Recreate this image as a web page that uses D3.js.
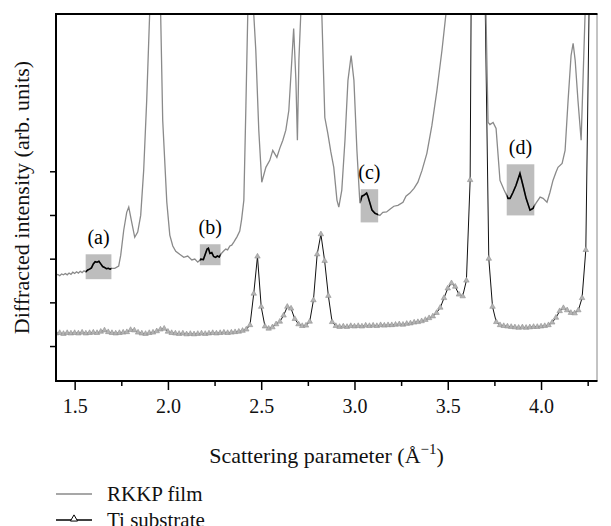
<!DOCTYPE html>
<html><head><meta charset="utf-8">
<script src="https://cdn.jsdelivr.net/npm/d3@7"></script>
<style>body{margin:0;background:#fff}svg{display:block}</style>
</head><body>
<svg id="c" width="611" height="526"></svg>
<script>
// ---- data ----
const xTicksMajor = [1.5, 2.0, 2.5, 3.0, 3.5, 4.0];
const xTickLabels = ["1.5", "2.0", "2.5", "3.0", "3.5", "4.0"];
const xTicksMinor = [1.75, 2.25, 2.75, 3.25, 3.75, 4.25];
const yTicks = [1, 2, 3, 4, 5];

const rkkpQ = [1.40,1.41,1.42,1.43,1.44,1.45,1.46,1.47,1.48,1.49,1.50,1.51,1.52,1.53,1.54,1.55,1.56,
 1.57,1.58,1.59,1.60,1.61,1.62,1.63,1.64,1.65,1.66,1.67,1.68,1.69,1.70,1.715,1.736,1.747,1.763,1.779,1.79,
 1.806,1.822,1.838,1.854,1.87,1.886,1.902,1.915,1.93,1.945,1.961,1.972,1.994,2.01,2.026,2.042,2.063,2.085,
 2.106,2.128,2.144,2.16,2.176,2.19,2.20,2.21,2.217,2.225,2.235,2.245,2.255,2.265,2.275,2.289,2.30,2.31,2.32,
 2.332,2.342,2.353,2.37,2.385,2.395,2.407,2.418,2.428,2.44,2.45,2.46,2.471,2.487,2.503,2.525,2.546,2.562,
 2.584,2.60,2.616,2.632,2.648,2.664,2.674,2.686,2.694,2.702,2.712,2.73,2.76,2.79,2.81,2.825,2.841,2.857,
 2.873,2.889,2.906,2.916,2.932,2.949,2.965,2.982,2.997,3.013,3.029,3.04,3.05,3.065,3.072,3.083,3.094,3.11,
 3.12,3.136,3.152,3.172,3.19,3.211,3.233,3.26,3.276,3.297,3.319,3.34,3.362,3.388,3.415,3.442,3.469,3.49,
 3.52,3.60,3.70,3.705,3.716,3.726,3.743,3.759,3.78,3.802,3.823,3.834,3.85,3.866,3.887,3.903,3.92,3.941,
 3.957,3.973,3.984,3.995,4.011,4.032,4.048,4.064,4.08,4.091,4.113,4.129,4.145,4.161,4.172,4.183,4.198,
 4.215,4.225,4.236,4.26,4.30];
const rkkpI = [2.62,2.64,2.61,2.65,2.63,2.66,2.63,2.67,2.64,2.69,2.66,2.70,2.67,2.71,2.68,2.72,2.70,
 2.74,2.76,2.79,2.88,2.93,2.92,2.94,2.88,2.82,2.80,2.77,2.78,2.76,2.78,2.78,2.83,3.08,3.65,4.06,4.18,
 3.83,3.49,3.61,3.99,5.02,6.60,8.60,11.0,12.5,11.0,8.60,6.17,4.29,3.54,3.29,3.17,3.10,3.03,
 3.06,2.97,2.99,2.92,2.99,2.98,3.10,3.22,3.24,3.12,3.14,3.05,3.03,3.06,3.04,3.13,3.18,3.22,3.20,
 3.29,3.31,3.38,3.50,3.63,3.90,4.34,6.50,8.60,11.0,10.5,8.60,7.77,5.94,4.75,5.09,5.25,5.48,
 5.32,5.53,5.71,5.94,6.39,7.54,8.27,7.08,5.71,7.54,8.59,11.0,12.0,11.0,9.50,8.59,6.23,5.87,
 5.45,5.09,4.34,4.18,4.57,5.71,7.08,7.65,7.08,5.48,4.27,4.43,4.45,4.50,4.43,4.27,4.11,4.04,
 4.02,3.99,4.06,4.07,4.13,4.20,4.22,4.29,4.43,4.50,4.61,4.75,5.02,5.41,6.05,6.85,7.77,8.59,
 11.0,13.0,13.0,8.59,6.12,6.07,6.12,5.98,4.79,4.57,4.38,4.38,4.52,4.68,4.95,4.68,4.38,4.11,
 4.15,4.27,4.34,4.41,4.38,4.29,4.52,4.79,4.98,5.09,5.18,5.48,6.62,7.65,7.93,7.54,6.62,
 5.71,7.08,8.59,11.0,12.0];

const tiQ = [1.40,1.42,1.44,1.46,1.48,1.50,1.52,1.54,1.56,1.58,1.60,1.62,1.64,1.66,1.68,1.70,1.72,1.74,
 1.76,1.78,1.80,1.82,1.84,1.86,1.88,1.90,1.92,1.94,1.96,1.98,2.00,2.02,2.04,2.06,2.08,2.10,2.12,2.14,
 2.16,2.18,2.20,2.22,2.24,2.26,2.28,2.30,2.32,2.34,2.36,2.38,2.40,2.42,2.44,2.46,2.48,2.50,2.52,2.54,
 2.56,2.58,2.60,2.62,2.64,2.66,2.68,2.70,2.72,2.74,2.76,2.78,2.80,2.82,2.84,2.86,2.88,2.90,2.92,2.94,
 2.96,2.98,3.00,3.02,3.04,3.06,3.08,3.10,3.12,3.14,3.16,3.18,3.20,3.22,3.24,3.26,3.28,3.30,3.32,3.34,
 3.36,3.38,3.40,3.42,3.44,3.46,3.48,3.50,3.52,3.54,3.56,3.58,3.60,3.62,3.64,3.66,3.68,3.70,3.72,3.74,
 3.76,3.78,3.80,3.82,3.84,3.86,3.88,3.90,3.92,3.94,3.96,3.98,4.00,4.02,4.04,4.06,4.08,4.10,4.12,4.14,
 4.16,4.18,4.20,4.22,4.24,4.26,4.28,4.30];
const tiI = [1.29,1.30,1.28,1.30,1.29,1.30,1.29,1.31,1.29,1.30,1.31,1.30,1.33,1.36,1.32,1.30,1.29,1.30,
 1.31,1.32,1.37,1.36,1.31,1.29,1.28,1.30,1.31,1.34,1.38,1.40,1.33,1.30,1.29,1.28,1.29,1.27,1.28,1.27,
 1.28,1.29,1.28,1.29,1.30,1.29,1.30,1.31,1.30,1.31,1.32,1.33,1.35,1.38,1.48,2.20,3.05,1.90,1.45,1.40,
 1.43,1.50,1.56,1.70,1.90,1.86,1.62,1.50,1.46,1.47,1.56,2.05,3.10,3.56,2.95,2.15,1.55,1.46,1.44,1.45,
 1.44,1.46,1.45,1.46,1.45,1.47,1.46,1.47,1.46,1.48,1.47,1.48,1.48,1.49,1.50,1.49,1.51,1.52,1.54,1.55,
 1.57,1.60,1.64,1.68,1.76,1.88,2.10,2.32,2.44,2.36,2.18,2.14,2.50,4.80,20,40,30,9.0,3.0,1.90,
 1.55,1.48,1.46,1.45,1.44,1.43,1.42,1.43,1.42,1.43,1.44,1.44,1.45,1.46,1.48,1.54,1.65,1.80,1.87,1.82,
 1.76,1.75,1.82,2.10,3.20,9.5,15,20];

const boxNames = ["(a)", "(b)", "(c)", "(d)"];
const boxQ0 = [1.559, 2.171, 3.033, 3.816];
const boxQ1 = [1.697, 2.282, 3.127, 3.964];
const boxI0 = [2.53, 2.85, 3.83, 3.99];
const boxI1 = [3.10, 3.33, 4.59, 5.16];

const legendNames = ["RKKP film", "Ti substrate"];

// ---- layout ----
const svg = d3.select("#c");
const L = 56, R = 597, T = 14, B = 381;
const x = d3.scaleLinear().domain([1.4, 4.3]).range([L, R]);
const y = d3.scaleLinear().domain([0.2, 8.6]).range([B, T]);
const serif = "'Liberation Serif','Times New Roman',serif";

svg.append("defs").append("clipPath").attr("id", "plot")
  .append("rect").attr("x", L).attr("y", T).attr("width", R - L).attr("height", B - T);

const boxes = boxNames.map((n, i) => ({n, q0: boxQ0[i], q1: boxQ1[i], i0: boxI0[i], i1: boxI1[i]}));
const defs = svg.select("defs");
boxes.forEach((b, i) => {
  defs.append("clipPath").attr("id", "bx" + i).append("rect")
    .attr("x", x(b.q0)).attr("y", y(b.i1))
    .attr("width", x(b.q1) - x(b.q0)).attr("height", y(b.i0) - y(b.i1));
});

const g = svg.append("g").attr("clip-path", "url(#plot)");

// highlight boxes
g.selectAll("rect.box").data(boxes).enter().append("rect")
  .attr("x", d => x(d.q0)).attr("y", d => y(d.i1))
  .attr("width", d => x(d.q1) - x(d.q0)).attr("height", d => y(d.i0) - y(d.i1))
  .attr("fill", "#bdbdbd");

const rkkp = rkkpQ.map((q, i) => [q, rkkpI[i]]);
const ti = tiQ.map((q, i) => [q, tiI[i]]);
const line = d3.line().x(d => x(d[0])).y(d => y(d[1]));

// Ti substrate
g.append("path").attr("d", line(ti)).attr("fill", "none").attr("stroke", "#111").attr("stroke-width", 1);
const tri = d3.symbol().type(d3.symbolTriangle).size(13);
g.selectAll("path.m").data(ti).enter().append("path")
  .attr("transform", d => `translate(${x(d[0])},${y(d[1])})`)
  .attr("d", tri).attr("fill", "#b4b4b4").attr("stroke", "#909090").attr("stroke-width", 0.6);

// RKKP film
g.append("path").attr("d", line(rkkp)).attr("fill", "none").attr("stroke", "#8a8a8a").attr("stroke-width", 1.3);
boxes.forEach((b, i) => {
  svg.append("path").attr("clip-path", `url(#bx${i})`).attr("d", line(rkkp))
    .attr("fill", "none").attr("stroke", "#000").attr("stroke-width", 1.6);
});

// box labels
svg.selectAll("text.bl").data(boxes).enter().append("text")
  .attr("x", d => x((d.q0 + d.q1) / 2)).attr("y", d => y(d.i1) - 10)
  .attr("text-anchor", "middle").attr("font-family", serif).attr("font-size", 20)
  .text(d => d.n);

// frame
svg.append("line").attr("x1", R).attr("x2", R).attr("y1", T).attr("y2", B).attr("stroke", "#888").attr("stroke-width", 1);
svg.append("line").attr("x1", L - 1).attr("x2", R + 0.5).attr("y1", T).attr("y2", T).attr("stroke", "#000").attr("stroke-width", 2);
svg.append("line").attr("x1", L).attr("x2", L).attr("y1", T - 1).attr("y2", B + 1).attr("stroke", "#000").attr("stroke-width", 2);
svg.append("line").attr("x1", L - 1).attr("x2", R + 0.5).attr("y1", B).attr("y2", B).attr("stroke", "#000").attr("stroke-width", 2);

// x ticks
const xAxisMaj = d3.axisBottom(x).tickValues(xTicksMajor).tickSize(9).tickFormat((d, i) => xTickLabels[i]);
const gx = svg.append("g").attr("transform", `translate(0,${B})`).call(xAxisMaj);
gx.select(".domain").remove();
gx.selectAll("line").attr("stroke", "#000").attr("stroke-width", 1.5);
gx.selectAll("text").attr("font-family", serif).attr("font-size", 20).attr("fill", "#111").attr("dy", "1.0em");
const xAxisMin = d3.axisBottom(x).tickValues(xTicksMinor).tickSize(5).tickFormat("");
const gx2 = svg.append("g").attr("transform", `translate(0,${B})`).call(xAxisMin);
gx2.select(".domain").remove();
gx2.selectAll("line").attr("stroke", "#000").attr("stroke-width", 1.5);

// y ticks
const gy = svg.append("g").attr("transform", `translate(${L},0)`)
  .call(d3.axisLeft(y).tickValues(yTicks).tickSize(6).tickFormat(""));
gy.select(".domain").remove();
gy.selectAll("line").attr("stroke", "#000").attr("stroke-width", 1.5);

// axis titles
const xt = svg.append("text").attr("x", (L + R) / 2).attr("y", 463).attr("text-anchor", "middle")
  .attr("font-family", serif).attr("font-size", 22).attr("fill", "#111");
xt.append("tspan").text("Scattering parameter (Å");
xt.append("tspan").text("−1").attr("font-size", 15).attr("dy", -9);
xt.append("tspan").text(")").attr("dy", 9);

svg.append("text").attr("transform", `translate(29,${(T + B) / 2}) rotate(-90)`)
  .attr("text-anchor", "middle").attr("font-family", serif).attr("font-size", 22).attr("fill", "#111")
  .text("Diffracted intensity (arb. units)");

// legend
const leg = svg.append("g");
legendNames.forEach((n, i) => {
  const yy = 494 + i * 26;
  leg.append("line").attr("x1", 56).attr("x2", 92).attr("y1", yy).attr("y2", yy)
    .attr("stroke", i === 0 ? "#8a8a8a" : "#000").attr("stroke-width", i === 0 ? 1.3 : 1.5);
  if (i === 1) leg.append("path").attr("transform", `translate(74,${yy - 1})`)
    .attr("d", d3.symbol().type(d3.symbolTriangle).size(22)).attr("fill", "#fff").attr("stroke", "#000").attr("stroke-width", 1);
  leg.append("text").attr("x", 107).attr("y", yy + 7).attr("font-family", serif).attr("font-size", 21)
    .attr("fill", "#111").text(n);
});
</script>
</body></html>
